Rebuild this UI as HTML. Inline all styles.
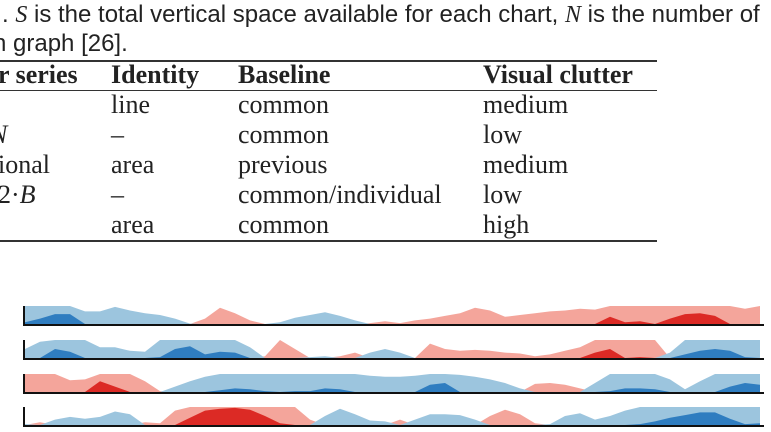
<!DOCTYPE html>
<html><head><meta charset="utf-8">
<style>
body{margin:0;width:771px;height:432px;background:#fff;overflow:hidden;position:relative;font-family:"Liberation Serif",serif;color:#222}
.cap{position:absolute;left:2px;font-family:"Liberation Sans",sans-serif;font-size:24px;white-space:nowrap;line-height:1}
.t{position:absolute;font-size:26px;white-space:nowrap;line-height:1}
.b{font-weight:bold}
.rule{position:absolute;left:0;width:657px;background:#333}
i{font-style:italic}
</style></head><body>
<div class="cap" style="top:3px">. <i style="font-family:'Liberation Serif',serif">S</i> is the total vertical space available for each chart, <i style="font-family:'Liberation Serif',serif">N</i> is the number of</div>
<div class="cap" style="top:32px;left:-7px">n graph [26].</div>
<div class="rule" style="top:60px;height:2px"></div>
<div class="rule" style="top:90px;height:1px"></div>
<div class="rule" style="top:240px;height:2px"></div>
<div>
<div class="t b" style="left:-2px;top:62px">r series</div>
<div class="t b" style="left:111px;top:62px">Identity</div>
<div class="t b" style="left:238px;top:62px">Baseline</div>
<div class="t b" style="left:483px;top:62px">Visual clutter</div>

<div class="t" style="left:111px;top:92px">line</div>
<div class="t" style="left:238px;top:92px">common</div>
<div class="t" style="left:483px;top:92px">medium</div>

<div class="t" style="left:-10px;top:122px"><i>N</i></div>
<div class="t" style="left:111px;top:122px">–</div>
<div class="t" style="left:238px;top:122px">common</div>
<div class="t" style="left:483px;top:122px">low</div>

<div class="t" style="left:-2px;top:152px">ional</div>
<div class="t" style="left:111px;top:152px">area</div>
<div class="t" style="left:238px;top:152px">previous</div>
<div class="t" style="left:483px;top:152px">medium</div>

<div class="t" style="left:-2px;top:182px">2·<i>B</i></div>
<div class="t" style="left:111px;top:182px">–</div>
<div class="t" style="left:238px;top:182px">common/individual</div>
<div class="t" style="left:483px;top:182px">low</div>

<div class="t" style="left:111px;top:212px">area</div>
<div class="t" style="left:238px;top:212px">common</div>
<div class="t" style="left:483px;top:212px">high</div>
</div>

<svg id="hz" width="771" height="432" style="position:absolute;left:0;top:0"></svg>
<script>
const row1 = [-1.1,-1.3,-1.55,-1.55,-0.7,-0.7,-0.95,-0.75,-0.6,-0.5,-0.3,-0.02,0.3,0.9,0.6,0.2,0,-0.1,-0.35,-0.5,-0.65,-0.45,-0.2,0.05,0.15,0.05,0.2,0.3,0.45,0.6,0.9,0.75,0.4,0.5,0.6,0.7,0.75,0.85,0.8,1.4,1.1,1.15,1.0,1.3,1.55,1.6,1.45,1.0,0.85,1.0];
const row2 = [-0.5,-0.9,-1.5,-1.35,-1.0,-0.6,-0.6,-0.4,-0.35,-1.05,-1.5,-1.65,-1.2,-1.35,-1.3,-0.6,0.1,1.0,0.5,-0.05,-0.1,0.1,0.3,-0.3,-0.5,-0.3,0,0.8,0.5,0.4,0.45,0.4,0.3,0.25,0.1,0.2,0.4,0.6,1.3,1.5,1.0,1.05,1.0,-0.3,-1.2,-1.4,-1.5,-1.4,-1.05,-1.0];
const row3 = [1.0,1.0,1.0,0.65,0.7,1.6,1.3,1.0,0.6,0.05,-0.3,-0.6,-0.85,-1.1,-1.2,-1.15,-1.05,-1.0,-1.05,-1.05,-1.2,-1.15,-1.0,-0.9,-0.85,-0.85,-0.9,-1.4,-1.5,-0.95,-0.85,-0.7,-0.5,-0.2,0.45,0.5,0.4,0.2,-0.5,-1.05,-1.2,-1.2,-1.15,-0.7,-0.15,-0.6,-1.0,-1.3,-1.5,-1.4];
const row4 = [-0.05,0.15,-0.3,-0.45,-0.35,-0.45,-0.75,-0.6,0.15,0.1,0.8,1.4,1.8,1.9,1.95,1.85,1.5,1.1,1.0,0.3,-0.5,-0.9,-0.6,-0.25,-0.2,0.3,-0.3,-0.6,-0.6,-0.55,-0.3,0.5,0.85,0.6,0.1,-0.05,-0.5,-0.65,-0.3,-0.5,-0.8,-1.05,-1.2,-1.4,-1.55,-1.7,-1.7,-1.35,-1.05,-1.1];
const series = [row1,row2,row3,row4];
const baselines = [324,358,392,425];
const X0=25, X1=760, BAND=18;
const svg=document.getElementById('hz');
const NS='http://www.w3.org/2000/svg';
function xScale(i,n){return X0+(X1-X0)*i/(n-1);}
function band(v,k){return Math.max(0,Math.min(1,v-k))*BAND;}
function area(vals,base,fn,color,name){
  let d='M'+X0+','+base;
  vals.forEach((v,i)=>{d+=' L'+xScale(i,vals.length).toFixed(1)+','+(base-fn(v)).toFixed(1);});
  d+=' L'+X1+','+base+' Z';
  const p=document.createElementNS(NS,'path');
  p.setAttribute('d',d);p.setAttribute('fill',color);
  
  
  svg.appendChild(p);
}
series.forEach((vals,r)=>{
  const b=baselines[r];
  area(vals,b,v=>band(Math.max(v,0),0),'#f4a59b','positive-band-1');
  area(vals,b,v=>band(Math.max(-v,0),0),'#9cc5de','negative-band-1');
  area(vals,b,v=>band(Math.max(v,0),1),'#dc2a25','positive-band-2');
  area(vals,b,v=>band(Math.max(-v,0),1),'#2f7dc0','negative-band-2');
  const ax=document.createElementNS(NS,'line');
  ax.setAttribute('x1',X0-1);ax.setAttribute('x2',X0-1);ax.setAttribute('y1',b-BAND);ax.setAttribute('y2',b+1);
  ax.setAttribute('stroke','#111');ax.setAttribute('stroke-width','2');
  
  
  svg.appendChild(ax);
  const bl=document.createElementNS(NS,'line');
  bl.setAttribute('x1',X0-2);bl.setAttribute('x2',X1+4);bl.setAttribute('y1',b+1);bl.setAttribute('y2',b+1);
  bl.setAttribute('stroke','#111');bl.setAttribute('stroke-width','2');
  
  
  svg.appendChild(bl);
});
</script>
</body></html>
